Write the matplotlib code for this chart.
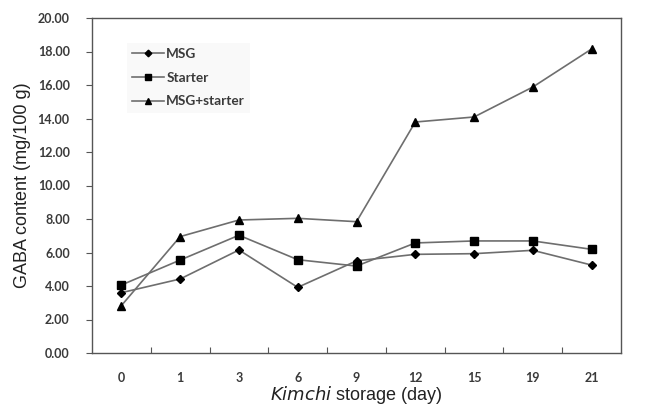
import matplotlib
matplotlib.use("Agg")
import matplotlib.pyplot as plt
from matplotlib.ticker import FixedLocator, NullFormatter

days = ["0", "1", "3", "6", "9", "12", "15", "19", "21"]
msg = [3.60, 4.42, 6.15, 3.92, 5.50, 5.89, 5.93, 6.13, 5.25]
starter = [4.06, 5.55, 7.03, 5.57, 5.19, 6.57, 6.69, 6.69, 6.19]
msg_starter = [2.83, 6.95, 7.94, 8.04, 7.84, 13.79, 14.09, 15.88, 18.15]
yticks = [0, 2, 4, 6, 8, 10, 12, 14, 16, 18, 20]

fig = plt.figure(figsize=(6.48, 4.12), dpi=100)
ax = fig.add_axes([92/648, 1-353/412, (621-92)/648, (353-18)/412])

x = [i + 0.5 for i in range(len(days))]
lc = "#6e6e6e"
ax.plot(x, msg, color=lc, lw=1.2, marker="D", ms=4.2, mfc="black", mec="black", label="MSG")
ax.plot(x, starter, color=lc, lw=1.2, marker="s", ms=5.8, mfc="black", mec="black", label="Starter")
ax.plot(x, msg_starter, color=lc, lw=1.2, marker="^", ms=6.0, mfc="black", mec="black", label="MSG+starter")

ax.set_xlim(0, len(days))
ax.set_ylim(0, 20)
ax.set_xticks(x)
ax.set_xticklabels(days)
ax.tick_params(axis="x", which="major", length=0, pad=14)
ax.xaxis.set_minor_locator(FixedLocator(list(range(1, len(days)))))
ax.xaxis.set_minor_formatter(NullFormatter())
ax.tick_params(axis="x", which="minor", direction="in", length=4, width=0.8, color="#555555")

ax.set_yticks(yticks)
ax.set_yticklabels([f"{v:.2f}" for v in yticks])
ax.tick_params(axis="y", direction="out", length=4, width=0.8, color="#555555", pad=12)

for lab in ax.get_xticklabels() + ax.get_yticklabels():
    lab.set_fontfamily(["Lato", "DejaVu Sans"])
    lab.set_fontsize(9)
    lab.set_fontweight("bold")
    lab.set_color("#3a3a3a")

for s in ax.spines.values():
    s.set_color("#555555")
    s.set_linewidth(1.0)

ax.set_ylabel("GABA content (mg/100 g)", family=["Liberation Sans"], fontsize=13, color="#222222", labelpad=5)
ax.set_xlabel(r"$\it{Kimchi}$ storage (day)", family=["Liberation Sans"], fontsize=13, color="#222222", labelpad=0)

leg = ax.legend(loc="upper left", bbox_to_anchor=(120/648, 1-36/412), bbox_transform=fig.transFigure,
                frameon=True, fancybox=False, handlelength=2.3, handletextpad=0.2, labelspacing=0.85,
                markerscale=0.8,
                prop=dict(family=["Lato", "DejaVu Sans"], size=9.8, weight="bold"), borderpad=0.4)
leg.get_frame().set_facecolor("#f8f8f8")
leg.get_frame().set_edgecolor("none")
for t in leg.get_texts():
    t.set_color("#3a3a3a")

fig.savefig("out.png", dpi=100)
